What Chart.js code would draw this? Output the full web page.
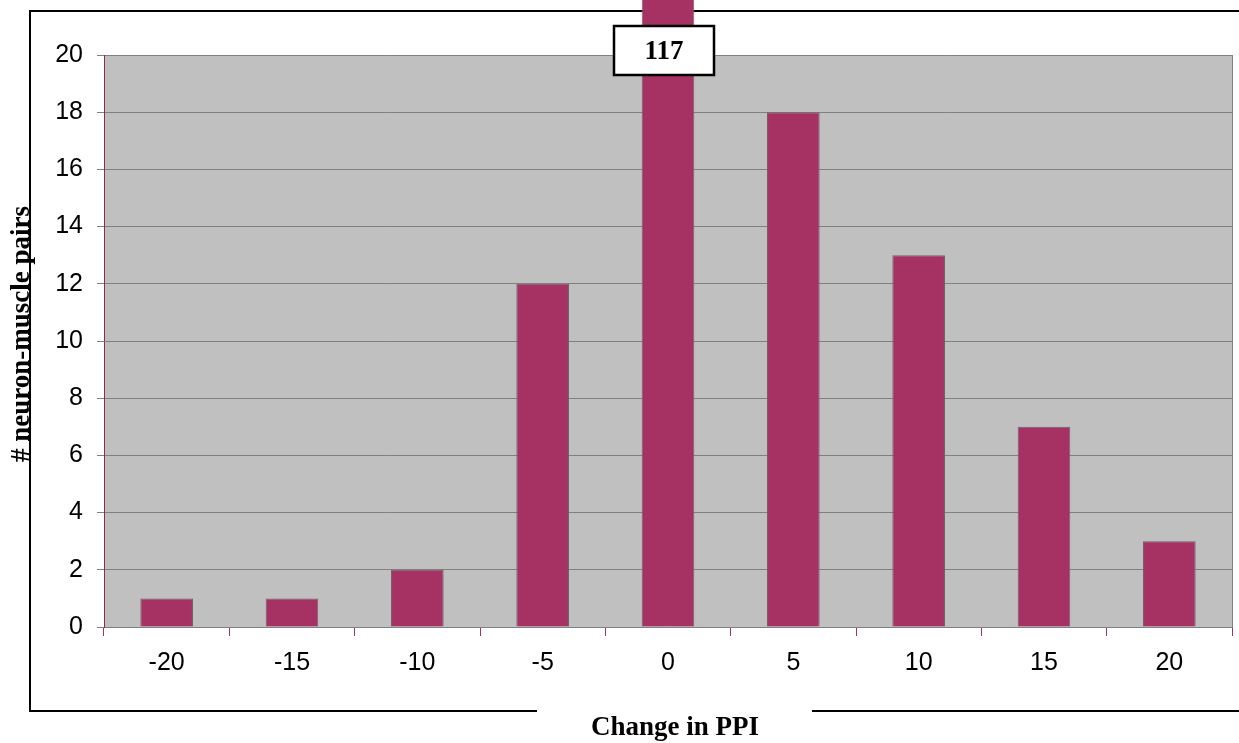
<!DOCTYPE html>
<html>
<head>
<meta charset="utf-8">
<script src="https://cdn.jsdelivr.net/npm/chart.js@4.4.1/dist/chart.umd.min.js"></script>
<style>
  body { margin: 0; background: #fff; }
  #wrap { width: 1239px; height: 743px; }
</style>
</head>
<body>
<div id="wrap"><canvas id="ppi-chart" width="1239" height="743"></canvas></div>
<script>
const categories = ['-20', '-15', '-10', '-5', '0', '5', '10', '15', '20'];
const pairCounts = [1, 1, 2, 12, 117, 18, 13, 7, 3];
const yTicks = [0, 2, 4, 6, 8, 10, 12, 14, 16, 18, 20];
const xTitle = 'Change in PPI';
const yTitle = '# neuron-muscle pairs';
const offScaleLabel = '117';

const barColor = '#a63264';
const gridColor = '#808080';
const titleFont = 'bold 27px "Liberation Serif", "Times New Roman", serif';

// frame, white gap for the x title, plot border, both titles and the 117 callout
const decorations = {
  id: 'decorations',
  beforeDraw(chart) {
    const ctx = chart.ctx;
    const area = chart.chartArea;
    ctx.save();
    ctx.fillStyle = '#c0c0c0';
    ctx.fillRect(area.left, area.top, area.right - area.left, area.bottom - area.top);
    ctx.strokeStyle = '#000';
    ctx.lineWidth = 2;
    ctx.strokeRect(30, 11, 1230, 700);
    ctx.restore();
  },
  afterDraw(chart) {
    const ctx = chart.ctx;
    const area = chart.chartArea;
    ctx.save();
    // plot right edge
    ctx.strokeStyle = gridColor;
    ctx.lineWidth = 1;
    ctx.beginPath();
    ctx.moveTo(area.right + 0.5, area.top);
    ctx.lineTo(area.right + 0.5, area.bottom);
    ctx.stroke();

    // x title with white gap in frame
    ctx.fillStyle = '#fff';
    ctx.fillRect(537, 700, 275, 43);
    ctx.fillStyle = '#000';
    ctx.font = titleFont;
    ctx.textAlign = 'center';
    ctx.textBaseline = 'middle';
    ctx.fillText(xTitle, 675, 728);

    // y title
    ctx.save();
    ctx.translate(22, 334);
    ctx.rotate(-Math.PI / 2);
    ctx.fillText(yTitle, 0, 0);
    ctx.restore();

    // off-scale callout
    const bar = chart.getDatasetMeta(0).data[pairCounts.indexOf(117)];
    const cx = bar.x - 4;
    ctx.fillStyle = '#fff';
    ctx.fillRect(cx - 50, 26, 100, 49);
    ctx.strokeStyle = '#000';
    ctx.lineWidth = 2.5;
    ctx.strokeRect(cx - 50, 26, 100, 49);
    ctx.fillStyle = '#000';
    ctx.fillText(offScaleLabel, cx, 52);
    ctx.restore();
  }
};

const ctx = document.getElementById('ppi-chart').getContext('2d');
new Chart(ctx, {
  type: 'bar',
  data: {
    labels: categories,
    datasets: [{
      data: pairCounts,
      backgroundColor: barColor,
      borderColor: '#706068',
      borderWidth: 1,
      barPercentage: 0.42,
      categoryPercentage: 1,
      clip: false
    }]
  },
  options: {
    responsive: false,
    animation: false,
    layout: { padding: { top: 55, right: 7, left: 0, bottom: 0 } },
    plugins: { legend: { display: false }, tooltip: { enabled: false } },
    scales: {
      x: {
        offset: true,
        afterFit: (scale) => { scale.height = 116; },
        grid: {
          offset: true,
          drawOnChartArea: false,
          drawTicks: true,
          tickLength: 9,
          tickColor: barColor
        },
        border: { color: gridColor, width: 1 },
        ticks: {
          color: '#000',
          padding: 12,
          font: { family: '"Liberation Sans", Arial, sans-serif', size: 25 }
        }
      },
      y: {
        min: 0,
        max: 20,
        afterFit: (scale) => { scale.width = 104; },
        afterBuildTicks: (scale) => { scale.ticks = yTicks.map(v => ({ value: v })); },
        grid: {
          color: gridColor,
          lineWidth: 1,
          tickLength: 7,
          tickColor: gridColor
        },
        border: { color: '#8a2a55', width: 1 },
        ticks: {
          color: '#000',
          padding: 14,
          font: { family: '"Liberation Sans", Arial, sans-serif', size: 25 }
        }
      }
    }
  },
  plugins: [decorations]
});
</script>
</body>
</html>
